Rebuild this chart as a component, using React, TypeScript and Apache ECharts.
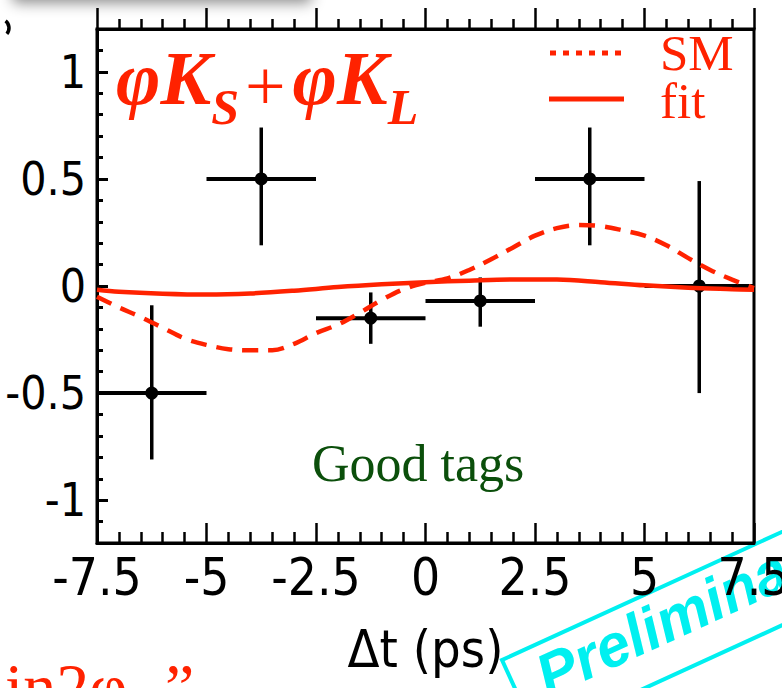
import React, { useEffect, useRef } from "react";
import * as echarts from "echarts";

// ---- tick values ----
const X_TICK_INTERVAL = 2.5;
const X_MIN = -7.5;
const X_MAX = 7.5;
const Y_MIN = -1.2;
const Y_MAX = 1.2;
const Y_MAJOR_TICKS = [-1, -0.5, 0, 0.5, 1];
const Y_MINOR_TICKS = [-1.2, -1.1, -1.0, -0.9, -0.8, -0.7, -0.6, -0.5, -0.4, -0.3, -0.2, -0.1, 0, 0.1, 0.2, 0.3, 0.4, 0.5, 0.6, 0.7, 0.8, 0.9, 1.0, 1.1, 1.2];

// ---- data points (binned asymmetry) ----
const BIN_CENTERS = [-6.25, -3.75, -1.25, 1.25, 3.75, 6.25];
const BIN_HALF_WIDTHS = [1.25, 1.25, 1.25, 1.25, 1.25, 1.25];
const ASYM_VALUES = [-0.5, 0.5, -0.15, -0.07, 0.5, 0.0];
const ERR_UP = [0.41, 0.24, 0.12, 0.11, 0.24, 0.49];
const ERR_DOWN = [0.31, 0.31, 0.12, 0.12, 0.31, 0.5];

// ---- SM expectation (dashed) ----
const SM_T = [-7.5, -7, -6.5, -6, -5.5, -5, -4.5, -4, -3.5, -3, -2.5, -2, -1.5, -1, -0.5, 0, 0.5, 1, 1.5, 2, 2.5, 3, 3.5, 4, 4.5, 5, 5.5, 6, 6.5, 7, 7.5];
const SM_A = [-0.05, -0.1, -0.145, -0.195, -0.245, -0.275, -0.295, -0.3, -0.3, -0.27, -0.22, -0.18, -0.125, -0.065, -0.015, 0.015, 0.035, 0.075, 0.125, 0.18, 0.235, 0.27, 0.285, 0.28, 0.26, 0.235, 0.19, 0.13, 0.075, 0.03, -0.01];

// ---- fit result (solid) ----
const FIT_T = [-7.5, -7, -6, -5, -4, -3, -2, -1, 0, 1, 2, 3, 4, 5, 6, 7, 7.5];
const FIT_A = [-0.018, -0.027, -0.036, -0.04, -0.035, -0.022, -0.005, 0.008, 0.018, 0.025, 0.03, 0.03, 0.018, 0.003, -0.008, -0.015, -0.018];

const RED = "#ff2200";
const CYAN = "#00f0f0";
const GREEN = "#0b4f0b";
const SANS_NARROW = '"Liberation Sans Narrow", "DejaVu Sans Condensed", "Liberation Sans", Arial, sans-serif';
const SERIF = '"Liberation Serif", "Times New Roman", serif';

export default function App() {
  const ref = useRef<HTMLDivElement>(null);

  useEffect(() => {
    if (!ref.current) return;
    const chart = echarts.init(ref.current, undefined, { renderer: "svg" });

    const pointData = BIN_CENTERS.map((c, i) => [c, ASYM_VALUES[i], BIN_HALF_WIDTHS[i], ERR_UP[i], ERR_DOWN[i]]);
    const smData = SM_T.map((t, i) => [t, SM_A[i]]);
    const fitData = FIT_T.map((t, i) => [t, FIT_A[i]]);

    const option: any = {
      animation: false,
      backgroundColor: "#fff",
      grid: {
        left: 97,
        right: 28,
        top: 29,
        bottom: 145,
        containLabel: false,
        outerBoundsMode: "none",
        show: true,
        borderColor: "#000",
        borderWidth: 3,
        backgroundColor: "transparent",
      },
      xAxis: [
        {
          type: "value",
          position: "bottom",
          min: X_MIN,
          max: X_MAX,
          interval: X_TICK_INTERVAL,
          axisLine: { show: true, onZero: false, lineStyle: { color: "#000", width: 3 } },
          axisTick: { show: true, inside: true, length: 20, lineStyle: { color: "#000", width: 2.5 } },
          minorTick: { show: true, splitNumber: 5, length: 11, lineStyle: { color: "#000", width: 2.5 } },
          splitLine: { show: false },
          minorSplitLine: { show: false },
          axisLabel: { show: true, color: "#000", fontSize: 51, fontFamily: SANS_NARROW, margin: 9 },
          name: "Δt (ps)",
          nameLocation: "middle",
          nameGap: 80,
          nameTextStyle: { color: "#000", fontSize: 52, fontFamily: SANS_NARROW },
        },
        {
          type: "value",
          position: "top",
          min: X_MIN,
          max: X_MAX,
          interval: X_TICK_INTERVAL,
          axisLine: { show: true, onZero: false, lineStyle: { color: "#000", width: 3 } },
          axisTick: { show: true, inside: false, length: 21, lineStyle: { color: "#000", width: 2.5 } },
          minorTick: { show: true, splitNumber: 5, length: 10, lineStyle: { color: "#000", width: 2.5 } },
          splitLine: { show: false },
          axisLabel: { show: false },
        },
      ],
      yAxis: [
        {
          type: "value",
          position: "left",
          min: Y_MIN,
          max: Y_MAX,
          axisLine: { show: true, onZero: false, lineStyle: { color: "#000", width: 3 } },
          axisTick: { show: true, inside: true, length: 11, customValues: Y_MAJOR_TICKS, lineStyle: { color: "#000", width: 3 } },
          axisLabel: {
            show: true,
            customValues: Y_MAJOR_TICKS,
            color: "#000",
            fontSize: 46,
            fontFamily: SANS_NARROW,
            margin: 11,
            formatter: (v: number) => String(v),
          },
          splitLine: { show: false },
        },
        {
          type: "value",
          position: "left",
          offset: 0,
          min: Y_MIN,
          max: Y_MAX,
          axisLine: { show: false, onZero: false },
          axisTick: { show: true, inside: true, length: 6, customValues: Y_MINOR_TICKS, lineStyle: { color: "#000", width: 3 } },
          axisLabel: { show: false },
          splitLine: { show: false },
        },
      ],
      series: [
        {
          type: "custom",
          xAxisIndex: 0,
          yAxisIndex: 0,
          data: pointData,
          encode: { x: 0, y: 1 },
          z: 3,
          renderItem: (params: any, api: any) => {
            const x = api.value(0);
            const y = api.value(1);
            const hw = api.value(2);
            const up = api.value(3);
            const dn = api.value(4);
            const pL = api.coord([x - hw, y]);
            const pR = api.coord([x + hw, y]);
            const pT = api.coord([x, y + up]);
            const pB = api.coord([x, y - dn]);
            const pC = api.coord([x, y]);
            return {
              type: "group",
              children: [
                { type: "line", shape: { x1: pL[0], y1: pL[1], x2: pR[0], y2: pR[1] }, style: { stroke: "#000", lineWidth: 4 } },
                { type: "line", shape: { x1: pT[0], y1: pT[1], x2: pB[0], y2: pB[1] }, style: { stroke: "#000", lineWidth: 3.5 } },
                { type: "circle", shape: { cx: pC[0], cy: pC[1], r: 6.5 }, style: { fill: "#000" } },
              ],
            };
          },
        },
        {
          type: "line",
          name: "SM",
          xAxisIndex: 0,
          yAxisIndex: 0,
          data: smData,
          smooth: 0.35,
          showSymbol: false,
          symbol: "none",
          z: 4,
          lineStyle: { color: RED, width: 4.5, type: [16, 10] },
        },
        {
          type: "line",
          name: "fit",
          xAxisIndex: 0,
          yAxisIndex: 0,
          data: fitData,
          smooth: 0.35,
          showSymbol: false,
          symbol: "none",
          z: 4,
          lineStyle: { color: RED, width: 4.5, type: "solid" },
        },
      ],
      graphic: [
        // shadow of a box above (top-left)
        {
          type: "rect",
          shape: { x: 12, y: -46, width: 300, height: 46, r: 6 },
          style: { fill: "#fff", shadowBlur: 14, shadowColor: "rgba(0,0,0,0.45)", shadowOffsetY: 3 },
          z: 50,
        },
        // small fragment at top-left
        {
          type: "arc",
          shape: { cx: 0, cy: 28, r: 9, startAngle: -0.9, endAngle: 0.7 },
          style: { stroke: "#000", lineWidth: 3.5, fill: "none" },
          z: 50,
        },
        // title: phi K_S + phi K_L (one rich text, subscripts lowered)
        {
          type: "text",
          x: 116,
          y: 40,
          z: 50,
          style: {
            text: "{m|φK}{s|S}{p|+}{m|φK}{s|L}",
            verticalAlign: "top",
            align: "left",
            rich: {
              m: { fill: RED, fontFamily: SERIF, fontSize: 76, fontWeight: "bold", fontStyle: "italic", lineHeight: 76, verticalAlign: "top" },
              s: { fill: RED, fontFamily: SERIF, fontSize: 50, fontWeight: "bold", fontStyle: "italic", lineHeight: 50, verticalAlign: "bottom" },
              p: { fill: RED, fontFamily: SERIF, fontSize: 72, lineHeight: 92, verticalAlign: "middle", padding: [0, 7, 0, 6] },
            },
          },
        },
        // legend
        { type: "line", shape: { x1: 550, y1: 53, x2: 624, y2: 53 }, style: { stroke: RED, lineWidth: 5, lineDash: [6, 7] }, z: 50 },
        { type: "line", shape: { x1: 549, y1: 99, x2: 624, y2: 99 }, style: { stroke: RED, lineWidth: 5 }, z: 50 },
        {
          type: "text",
          x: 660,
          y: 29,
          z: 50,
          style: { text: "SM\nfit", fill: RED, font: `51px ${SERIF}`, lineHeight: 48, verticalAlign: "top" },
        },
        // Good tags
        { type: "text", x: 312, y: 463, z: 50, style: { text: "Good tags", fill: GREEN, font: `52px ${SERIF}`, verticalAlign: "middle" } },
        // bottom-left red fragment
        { type: "text", x: 5, y: 686, z: 50, style: { text: "in2φ", fill: RED, font: `66px ${SERIF}`, verticalAlign: "middle" } },
        { type: "text", x: 165, y: 686, z: 50, style: { text: "”", fill: RED, font: `66px ${SERIF}`, verticalAlign: "middle" } },
        // Preliminary stamp
        {
          type: "group",
          x: 502,
          y: 660,
          rotation: (24.6 * Math.PI) / 180,
          z: 100,
          children: [
            { type: "rect", shape: { x: 0, y: 0, width: 440, height: 85 }, style: { fill: "none", stroke: CYAN, lineWidth: 4 } },
            {
              type: "text",
              x: 26,
              y: 33,
              style: { text: "Preliminary", fill: CYAN, font: `italic bold 60px "Liberation Sans", Arial, sans-serif`, verticalAlign: "middle" },
            },
          ],
        },
      ],
    };

    chart.setOption(option);
    return () => chart.dispose();
  }, []);

  return <div ref={ref} style={{ position: "absolute", left: 0, top: 0, width: 782, height: 688 }} />;
}
